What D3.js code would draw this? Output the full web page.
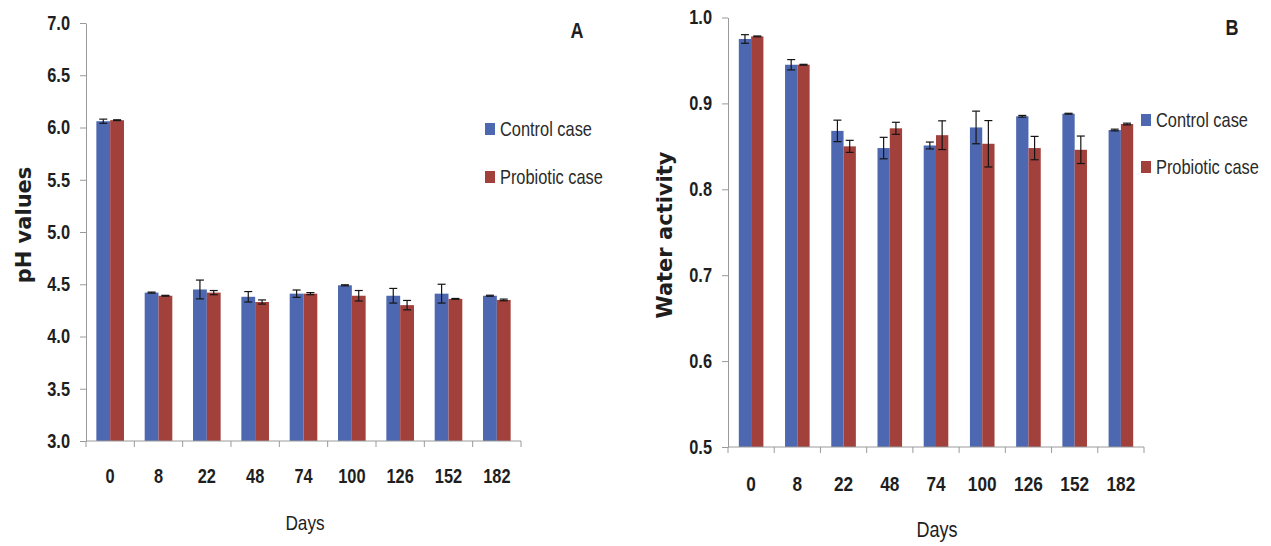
<!DOCTYPE html>
<html>
<head>
<meta charset="utf-8">
<script src="https://cdn.jsdelivr.net/npm/d3@7"></script>
<style>
  html, body { margin: 0; padding: 0; background: #fff; }
  svg { display: block; }
  .nc, .nl, .nr { font-family: "Liberation Sans", Arial, sans-serif; transform-box: fill-box; transform: scaleX(0.82); }
  .nc { transform-origin: center; }
  .nl { transform-origin: left center; }
  .nr { transform-origin: right center; }
</style>
</head>
<body>
<svg id="chart" width="1271" height="546"></svg>
<script>
// ---------- data ----------
const days = ["0", "8", "22", "48", "74", "100", "126", "152", "182"];
const seriesNames = ["Control case", "Probiotic case"];
const seriesColors = ["#4d68b0", "#a2403c"];

const phControl      = [6.06, 4.42, 4.45, 4.38, 4.41, 4.49, 4.39, 4.41, 4.39];
const phControlErr   = [0.02, 0.005, 0.09, 0.05, 0.035, 0.005, 0.07, 0.09, 0.005];
const phProbiotic    = [6.07, 4.39, 4.42, 4.33, 4.41, 4.39, 4.30, 4.36, 4.35];
const phProbioticErr = [0.004, 0.004, 0.02, 0.02, 0.01, 0.05, 0.045, 0.004, 0.008];

const awControl      = [0.975, 0.945, 0.868, 0.848, 0.851, 0.872, 0.885, 0.888, 0.869];
const awControlErr   = [0.005, 0.006, 0.0125, 0.0125, 0.004, 0.019, 0.001, 0.0005, 0.001];
const awProbiotic    = [0.978, 0.945, 0.850, 0.871, 0.863, 0.853, 0.848, 0.846, 0.876];
const awProbioticErr = [0.0005, 0.0005, 0.007, 0.007, 0.0167, 0.027, 0.0136, 0.016, 0.001];

const phTicks = [3.0, 3.5, 4.0, 4.5, 5.0, 5.5, 6.0, 6.5, 7.0];
const awTicks = [0.5, 0.6, 0.7, 0.8, 0.9, 1.0];

// ---------- drawing ----------
const svg = d3.select("#chart");
const AXIS = "#9a9a9a";
const TEXT = "#1e1e1e";

function drawPanel(cfg) {
  const g = svg.append("g");
  const x0 = d3.scaleBand().domain(days).range([cfg.left, cfg.right]).padding(0);
  const x1 = d3.scaleBand().domain(seriesNames).range([0, x0.bandwidth()])
    .paddingInner(0).paddingOuter(cfg.outer);
  const y = d3.scaleLinear().domain(cfg.domain).range([cfg.bottom, cfg.top]);

  const rows = days.map((d, i) => ({
    day: d,
    vals: [
      { s: seriesNames[0], v: cfg.values[0][i], e: cfg.errors[0][i], c: seriesColors[0] },
      { s: seriesNames[1], v: cfg.values[1][i], e: cfg.errors[1][i], c: seriesColors[1] }
    ]
  }));

  // bars
  const grp = g.selectAll(".grp").data(rows).join("g")
    .attr("transform", d => `translate(${x0(d.day)},0)`);
  grp.selectAll("rect").data(d => d.vals).join("rect")
    .attr("x", d => x1(d.s))
    .attr("width", x1.bandwidth())
    .attr("y", d => y(d.v))
    .attr("height", d => y(cfg.domain[0]) - y(d.v))
    .attr("fill", d => d.c);

  // error bars
  const cap = 4;
  const eb = grp.selectAll(".eb").data(d => d.vals).join("g")
    .attr("stroke", "#151515").attr("stroke-width", 1.2).attr("fill", "none");
  const cx = d => x1(d.s) + x1.bandwidth() / 2;
  eb.append("line")
    .attr("x1", cx).attr("x2", cx)
    .attr("y1", d => y(d.v - d.e)).attr("y2", d => y(d.v + d.e));
  eb.append("line")
    .attr("x1", d => cx(d) - cap).attr("x2", d => cx(d) + cap)
    .attr("y1", d => y(d.v + d.e)).attr("y2", d => y(d.v + d.e));
  eb.append("line")
    .attr("x1", d => cx(d) - cap).attr("x2", d => cx(d) + cap)
    .attr("y1", d => y(d.v - d.e)).attr("y2", d => y(d.v - d.e));

  // y axis
  const yAxis = g.append("g").attr("transform", `translate(${cfg.left},0)`)
    .call(d3.axisLeft(y).tickValues(cfg.ticks).tickFormat(d3.format(".1f"))
      .tickSizeInner(6).tickSizeOuter(0).tickPadding(10));
  yAxis.select(".domain").attr("stroke", AXIS);
  yAxis.selectAll(".tick line").attr("stroke", AXIS);
  yAxis.selectAll("text").attr("class", "nr").attr("font-size", cfg.yFont)
    .attr("font-family", null)
    .attr("font-weight", "bold").attr("fill", TEXT);

  // x axis: labels at band centres, ticks at band boundaries
  const xAxis = g.append("g").attr("transform", `translate(0,${cfg.bottom})`)
    .call(d3.axisBottom(x0).tickSize(0).tickPadding(cfg.xPad));
  xAxis.select(".domain").remove();
  xAxis.attr("font-family", null);
  yAxis.attr("font-family", null);
  xAxis.selectAll("text").attr("class", "nc").attr("font-size", cfg.xFont)
    .attr("font-weight", "bold").attr("fill", TEXT);
  g.append("line").attr("x1", cfg.left).attr("x2", cfg.right)
    .attr("y1", cfg.bottom).attr("y2", cfg.bottom).attr("stroke", AXIS);
  const bounds = days.map(d => x0(d)).concat([x0(days[days.length - 1]) + x0.bandwidth()]);
  g.selectAll(".xt").data(bounds).join("line")
    .attr("x1", d => d).attr("x2", d => d)
    .attr("y1", cfg.bottom).attr("y2", cfg.bottom + 6).attr("stroke", AXIS);

  // axis titles
  g.append("text").attr("class", "nc")
    .attr("x", cfg.daysX).attr("y", cfg.daysY).attr("text-anchor", "middle")
    .attr("font-size", cfg.daysFont).attr("fill", TEXT).text("Days");
  g.append("text")
    .attr("transform", `translate(${cfg.yTitleX},${cfg.yTitleY}) rotate(-90)`)
    .attr("text-anchor", "middle")
    .attr("font-family", "DejaVu Sans, Verdana, sans-serif").attr("font-weight", "bold")
    .attr("font-size", 21).attr("fill", TEXT).text(cfg.yTitle);

  // panel letter
  g.append("text").attr("class", "nc")
    .attr("x", cfg.letterX).attr("y", cfg.letterY).attr("text-anchor", "middle")
    .attr("font-size", 22).attr("font-weight", "bold").attr("fill", TEXT).text(cfg.letter);

  // legend
  const leg = g.selectAll(".leg").data(seriesNames).join("g")
    .attr("transform", (d, i) => `translate(${cfg.legX},${cfg.legY + i * cfg.legGap})`);
  leg.append("rect").attr("x", 0).attr("y", -6).attr("width", 10).attr("height", 12)
    .attr("fill", (d, i) => seriesColors[i]);
  leg.append("text").attr("class", "nl").attr("x", 15).attr("y", 0).attr("dy", "0.35em")
    .attr("font-size", 20).attr("fill", "#2a2a2a").text(d => d);
}

drawPanel({
  left: 86, right: 521, top: 23, bottom: 441, outer: 0.75,
  domain: [3, 7], ticks: phTicks,
  values: [phControl, phProbiotic], errors: [phControlErr, phProbioticErr],
  yFont: 20, xFont: 20, xPad: 28,
  daysX: 305, daysY: 530, daysFont: 21,
  yTitle: "pH values", yTitleX: 31, yTitleY: 225,
  letter: "A", letterX: 577, letterY: 38,
  legX: 485, legY: 129, legGap: 48
});

drawPanel({
  left: 728, right: 1144, top: 17.5, bottom: 447, outer: 0.88,
  domain: [0.5, 1.0], ticks: awTicks,
  values: [awControl, awProbiotic], errors: [awControlErr, awProbioticErr],
  yFont: 20, xFont: 21, xPad: 29,
  daysX: 937, daysY: 537, daysFont: 22,
  yTitle: "Water activity", yTitleX: 672, yTitleY: 235,
  letter: "B", letterX: 1232, letterY: 35,
  legX: 1141, legY: 120, legGap: 47
});
</script>
</body>
</html>
